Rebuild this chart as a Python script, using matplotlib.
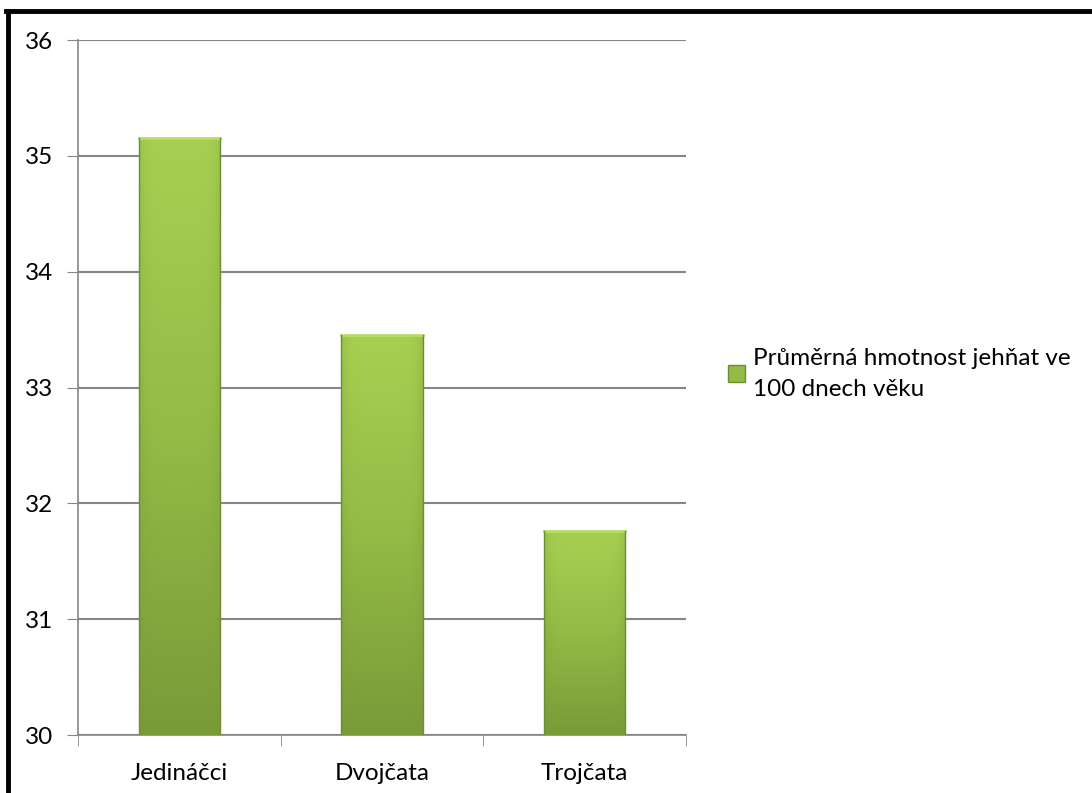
import numpy as np
import matplotlib.pyplot as plt
from matplotlib.colors import LinearSegmentedColormap
from matplotlib.lines import Line2D

plt.rcParams['font.family'] = ['Lato', 'DejaVu Sans']

categories = ['Jedináčci', 'Dvojčata', 'Trojčata']
values = [35.15, 33.45, 31.76]
series_name = 'Průměrná hmotnost jehňat ve\n100 dnech věku'

fig = plt.figure(figsize=(10.92, 7.93), dpi=100)
ax = fig.add_axes([78/1092, 1 - 735/793, (686 - 78)/1092, (735 - 40)/793])

x = np.arange(len(categories))
bars = ax.bar(x, [v - 30 for v in values], bottom=30, width=0.4,
              color='#93bb45', edgecolor='none', zorder=2, label=series_name)

# vertical gradient + darker edges on each bar
cmap = LinearSegmentedColormap.from_list('g', ['#7a9a38', '#93bb46', '#a7d052'])
for b in bars:
    x0, y0 = b.get_x(), b.get_y()
    w, h = b.get_width(), b.get_height()
    grad = np.linspace(0, 1, 200).reshape(-1, 1)
    horiz = 1 - 0.35 * (np.abs(np.linspace(-1, 1, 60)) ** 6)
    img = grad * horiz.reshape(1, -1)
    ax.imshow(img, extent=(x0, x0 + w, y0, y0 + h), origin='lower', cmap=cmap,
              vmin=0, vmax=1, aspect='auto', zorder=3)
    ax.plot([x0, x0 + w], [y0 + h, y0 + h], color='#b8dc66', lw=2, zorder=4)
    ax.plot([x0, x0], [y0, y0 + h], color='#6f8c34', lw=1, zorder=4)
    ax.plot([x0 + w, x0 + w], [y0, y0 + h], color='#6f8c34', lw=1, zorder=4)

ax.set_xlim(-0.5, 2.5)
ax.set_ylim(30, 36)
ax.set_yticks(range(30, 37))
ax.set_xticks(x)
ax.set_xticklabels(categories)
ax.set_xticks([-0.5, 0.5, 1.5, 2.5], minor=True)
ax.tick_params(axis='x', which='major', length=0, labelsize=17.5, pad=20)
ax.tick_params(axis='x', which='minor', length=8, color='#868686', direction='out')
ax.tick_params(axis='y', length=8, color='#868686', labelsize=17.5, pad=10)
ax.grid(axis='y', color='#868686', lw=1.5, zorder=1)
for s in ['top', 'right']:
    ax.spines[s].set_visible(False)
for s in ['left', 'bottom']:
    ax.spines[s].set_color('#868686')
    ax.spines[s].set_linewidth(1.2)

leg = ax.legend(loc='center left', bbox_to_anchor=(1.033, 0.52), frameon=False,
                fontsize=17.5, handlelength=0.7, handleheight=0.7, handletextpad=0.35)
for t in leg.get_texts():
    t.set_linespacing(1.6)
leg.get_patches()[0].set_facecolor('#93bb45')
leg.get_patches()[0].set_edgecolor('#6f8c34')

# page border around the chart
fig.add_artist(Line2D([8/1092, 8/1092], [0, 1 - 11/793], color='black', lw=3.5))
fig.add_artist(Line2D([6/1092, 1], [1 - 11/793, 1 - 11/793], color='black', lw=3.5))

fig.savefig('out.png', dpi=100)
